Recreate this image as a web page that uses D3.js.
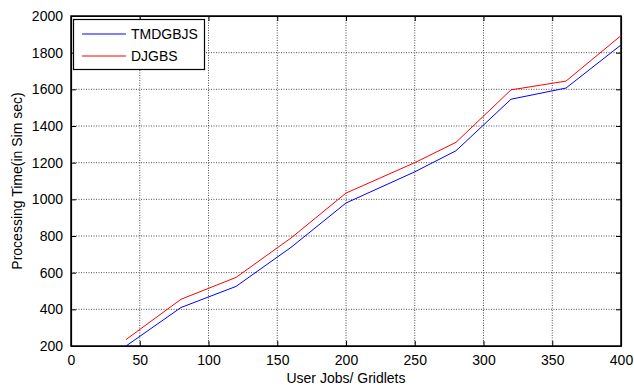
<!DOCTYPE html>
<html><head><meta charset="utf-8">
<script src="https://d3js.org/d3.v7.min.js"></script>
<style>body{margin:0;background:#fff;} svg{display:block;font-family:"Liberation Sans",Arial,sans-serif;}</style>
</head><body><div id="chart"></div>
<script>
const xValues = [40, 80, 120, 160, 200, 250, 280, 320, 360, 400];
const tmdgbjs = [200, 410, 525, 738, 980, 1150, 1265, 1546, 1607, 1842];
const djgbs   = [235, 455, 574, 789, 1034, 1200, 1311, 1597, 1645, 1893];
const xTicks = [0, 50, 100, 150, 200, 250, 300, 350, 400];
const yTicks = [200, 400, 600, 800, 1000, 1200, 1400, 1600, 1800, 2000];
const seriesNames = ["TMDGBJS", "DJGBS"];
const seriesColors = ["#0000ff", "#ff0000"];

const W = 634, H = 387;
const m = {left: 71, right: 13, top: 16, bottom: 41};
const svg = d3.select("#chart").append("svg").attr("width", W).attr("height", H);
const x = d3.scaleLinear().domain([0, 400]).range([m.left, W - m.right]);
const y = d3.scaleLinear().domain([200, 2000]).range([H - m.bottom, m.top]);

// grid
const g = svg.append("g");
g.selectAll(".gx").data(xTicks.slice(1, -1)).enter().append("line")
  .attr("x1", d => x(d)).attr("x2", d => x(d)).attr("y1", y(200)).attr("y2", y(2000))
  .attr("stroke", "#222").attr("stroke-width", 0.8).attr("stroke-dasharray", "1,1.5");
g.selectAll(".gy").data(yTicks.slice(1, -1)).enter().append("line")
  .attr("y1", d => y(d)).attr("y2", d => y(d)).attr("x1", x(0)).attr("x2", x(400))
  .attr("stroke", "#222").attr("stroke-width", 0.8).attr("stroke-dasharray", "1,1.5");

// axes
const fmt = d3.format("d");
svg.append("g").attr("transform", `translate(0,${y(200)})`)
  .call(d3.axisBottom(x).tickValues(xTicks).tickFormat(fmt).tickSize(-5).tickPadding(9).tickSizeOuter(0));
svg.append("g").attr("transform", `translate(${x(0)},0)`)
  .call(d3.axisLeft(y).tickValues(yTicks).tickFormat(fmt).tickSize(-5).tickPadding(8).tickSizeOuter(0));
svg.append("g").attr("transform", `translate(0,${y(2000)})`)
  .call(d3.axisTop(x).tickValues(xTicks).tickSize(-5).tickFormat("").tickSizeOuter(0));
svg.append("g").attr("transform", `translate(${x(400)},0)`)
  .call(d3.axisRight(y).tickValues(yTicks).tickSize(-5).tickFormat("").tickSizeOuter(0));
svg.selectAll(".domain").attr("stroke", "#000").attr("stroke-width", 1.2);
svg.selectAll(".tick line").attr("stroke", "#000");
svg.selectAll(".tick text").attr("font-size", 14).attr("fill", "#000")
  .attr("font-family", "Liberation Sans, Arial, sans-serif");
svg.append("rect").attr("x", x(0)).attr("y", y(2000)).attr("width", x(400) - x(0))
  .attr("height", y(200) - y(2000)).attr("fill", "none").attr("stroke", "#000").attr("stroke-width", 1.5);

// lines
const line = d3.line().x(d => x(d[0])).y(d => y(d[1]));
[tmdgbjs, djgbs].forEach((vals, i) => {
  svg.append("path").datum(xValues.map((v, j) => [v, vals[j]]))
    .attr("d", line).attr("fill", "none").attr("stroke", seriesColors[i]).attr("stroke-width", 1);
});

// labels
svg.append("text").attr("x", (x(0) + x(400)) / 2).attr("y", 383).attr("text-anchor", "middle")
  .attr("font-size", 14).text("User Jobs/ Gridlets");
svg.append("text").attr("transform", `translate(22,${(y(200) + y(2000)) / 2}) rotate(-90)`)
  .attr("text-anchor", "middle").attr("font-size", 14).text("Processing Time(in Sim sec)");

// legend
const lg = svg.append("g");
lg.append("rect").attr("x", 73.5).attr("y", 19.5).attr("width", 131).attr("height", 50)
  .attr("fill", "#fff").attr("stroke", "#000").attr("stroke-width", 1.2);
seriesNames.forEach((n, i) => {
  const yy = 34 + i * 22;
  lg.append("line").attr("x1", 82).attr("x2", 126).attr("y1", yy).attr("y2", yy)
    .attr("stroke", seriesColors[i]).attr("stroke-width", 1);
  lg.append("text").attr("x", 131).attr("y", yy + 5).attr("font-size", 14).text(n);
});
</script></body></html>
